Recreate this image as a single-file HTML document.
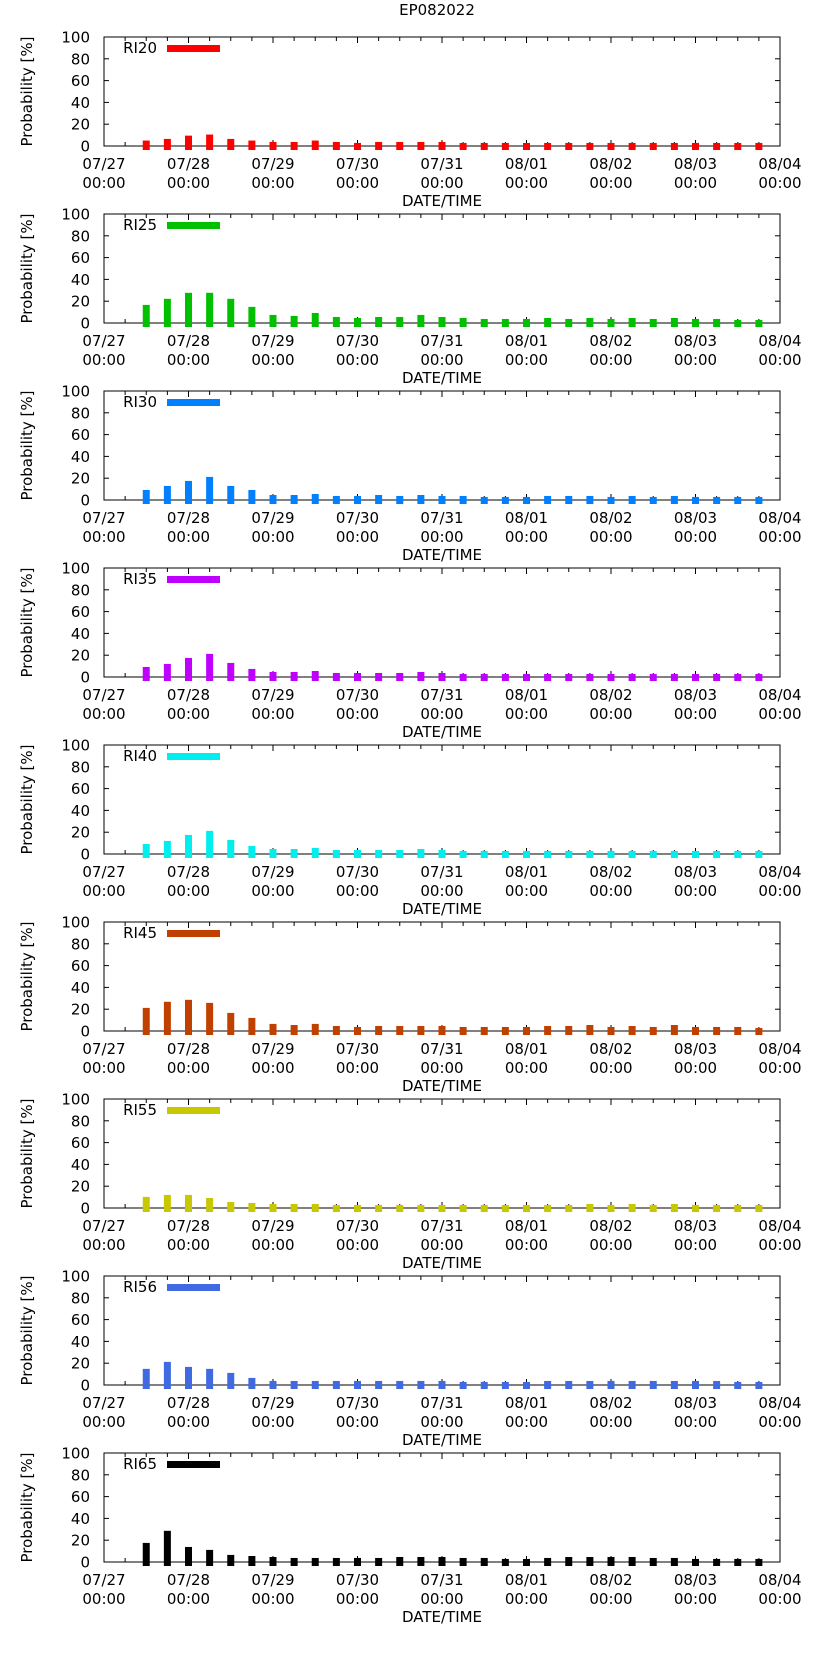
<!DOCTYPE html>
<html><head><meta charset="utf-8"><style>
html,body{margin:0;padding:0;background:#fff;}
svg{display:block;font-family:"DejaVu Sans","Liberation Sans",sans-serif;}
</style></head><body>
<svg id="chart" width="822" height="1653" viewBox="0 0 822 1653" xmlns="http://www.w3.org/2000/svg">
<text x="437" y="15" font-size="15" text-anchor="middle">EP082022</text>
</svg>
<script>
const seriesNames = ["RI20","RI25","RI30","RI35","RI40","RI45","RI55","RI56","RI65"];
const seriesColors = ["#ff0000","#00c000","#0080ff","#c000ff","#00eeee","#c04000","#c8c800","#4169e1","#000000"];
const barHours = [12,18,24,30,36,42,48,54,60,66,72,78,84,90,96,102,108,114,120,126,132,138,144,150,156,162,168,174,180,186];
const xTickLabels = ["07/27","07/28","07/29","07/30","07/31","08/01","08/02","08/03","08/04"];
const yTicks = [0,20,40,60,80,100];
const ri20 = [5,6.5,9.5,10.5,6.5,5,3.7,3.7,5,3.7,2.8,3.7,3.7,3.7,3.7,2.8,2.8,2.8,2.8,2.8,2.8,2.8,2.8,2.8,2.8,2.8,2.8,2.8,2.8,2.8];
const ri25 = [16.6,22.2,27.7,27.7,22.2,14.8,7.4,6.5,9.2,5.5,4.6,5.5,5.5,7.4,5.5,4.6,3.7,3.7,3.7,4.6,3.7,4.6,3.7,4.6,3.7,4.6,3.7,3.7,2.8,2.8];
const ri30 = [9.2,12.9,17.5,21.2,12.9,9.2,4.6,4.6,5.5,3.7,3.7,4.6,3.7,4.6,3.7,3.7,2.8,2.8,2.8,3.7,3.7,3.7,2.8,3.7,2.8,3.7,2.8,2.8,2.8,2.8];
const ri35 = [9.2,12,17.5,21.2,12.9,7.4,4.6,4.6,5.5,3.7,3.7,3.7,3.7,4.6,3.7,2.8,2.8,2.8,2.8,2.8,2.8,2.8,2.8,2.8,2.8,2.8,2.8,2.8,2.8,2.8];
const ri40 = [9.2,12,17.5,21.2,12.9,7.4,4.6,4.6,5.5,3.7,3.7,3.7,3.7,4.6,3.7,2.8,2.8,2.8,2.8,2.8,2.8,2.8,2.8,2.8,2.8,2.8,2.8,2.8,2.8,2.8];
const ri45 = [21.2,26.8,28.6,25.8,16.6,12,6.5,5.5,6.5,4.6,3.7,4.6,4.6,4.6,4.6,3.7,3.7,3.7,3.7,4.6,4.6,5.5,3.7,4.6,3.7,5.5,3.7,3.7,3.7,2.8];
const ri55 = [10.2,12,12,9.2,5.5,4.6,3.7,3.7,3.7,2.8,2.8,2.8,2.8,2.8,2.8,2.8,2.8,2.8,2.8,2.8,2.8,3.7,2.8,3.7,2.8,3.7,2.8,2.8,2.8,2.8];
const ri56 = [14.8,21.2,16.6,14.8,11.1,6.5,3.7,3.7,3.7,3.7,3.7,3.7,3.7,3.7,3.7,2.8,2.8,2.8,2.8,3.7,3.7,3.7,3.7,3.7,3.7,3.7,3.7,3.7,2.8,2.8];
const ri65 = [17.5,28.6,13.8,11.1,6.5,5.5,4.6,3.7,3.7,3.7,3.7,3.7,4.6,4.6,4.6,3.7,3.7,2.8,2.8,3.7,4.6,4.6,4.6,4.6,3.7,3.7,2.8,2.8,2.8,2.8];
const allSeries = [ri20,ri25,ri30,ri35,ri40,ri45,ri55,ri56,ri65];

const NS = "http://www.w3.org/2000/svg";
const svg = document.getElementById("chart");
const L = 104, R = 780, TOP0 = 37, H = 109, STEP = 177, HOURS = 192;
function mk(tag, attrs, parent, txt){
  const e = document.createElementNS(NS, tag);
  for (const k in attrs) e.setAttribute(k, attrs[k]);
  if (txt !== undefined) e.textContent = txt;
  parent.appendChild(e);
  return e;
}
const xScale = h => L + (R - L) * h / HOURS;

allSeries.forEach((vals, p) => {
  const top = TOP0 + p * STEP, bot = top + H;
  const yScale = v => bot - H * v / 100;
  const g = mk("g", {}, svg);
  
  
  const yl = mk("text", {x: 0, y: 0, "font-size": 15, "text-anchor": "middle", transform: `translate(32,${(top+bot)/2}) rotate(-90)`}, g, "Probability [%]");
  
  
  // frame first
  mk("rect", {x: L, y: top, width: R - L, height: H, fill: "none", stroke: "#000", "stroke-width": 1}, g);
  yTicks.forEach(t => {
    const y = yScale(t);
    mk("line", {x1: L, x2: L + 5, y1: y, y2: y, stroke: "#000", "stroke-width": 1}, g);
    mk("line", {x1: R - 5, x2: R, y1: y, y2: y, stroke: "#000", "stroke-width": 1}, g);
    const tl = mk("text", {x: 90, y: y + 5.5, "font-size": 15, "text-anchor": "end"}, g, String(t));
    
    
  });
  for (let h = 0; h <= HOURS; h += 6) {
    const x = xScale(h), len = (h % 24 === 0) ? 6 : 4;
    mk("line", {x1: x, x2: x, y1: bot, y2: bot - len, stroke: "#000", "stroke-width": 1}, g);
    mk("line", {x1: x, x2: x, y1: top, y2: top + len, stroke: "#000", "stroke-width": 1}, g);
  }
  xTickLabels.forEach((lab, i) => {
    const x = xScale(i * 24);
    const t1 = mk("text", {x: x, y: bot + 23, "font-size": 15, "text-anchor": "middle"}, g, lab);
    
    
    const t2 = mk("text", {x: x, y: bot + 42, "font-size": 15, "text-anchor": "middle"}, g, "00:00");
    
    
  });
  const xt = mk("text", {x: 442, y: bot + 60, "font-size": 15, "text-anchor": "middle"}, g, "DATE/TIME");
  
  
  // bars over axes
  vals.forEach((v, i) => {
    const x = xScale(barHours[i]);
    const y = yScale(v);
    const b = mk("rect", {x: x - 3.5, y: y, width: 7, height: bot + 4 - y, fill: seriesColors[p]}, g);
    
    
  });
  const lt = mk("text", {x: 157, y: top + 16, "font-size": 15, "text-anchor": "end"}, g, seriesNames[p]);
  
  
  const ls = mk("rect", {x: 167, y: top + 8, width: 53, height: 7, fill: seriesColors[p]}, g);
  
  
});
</script>
</body></html>
